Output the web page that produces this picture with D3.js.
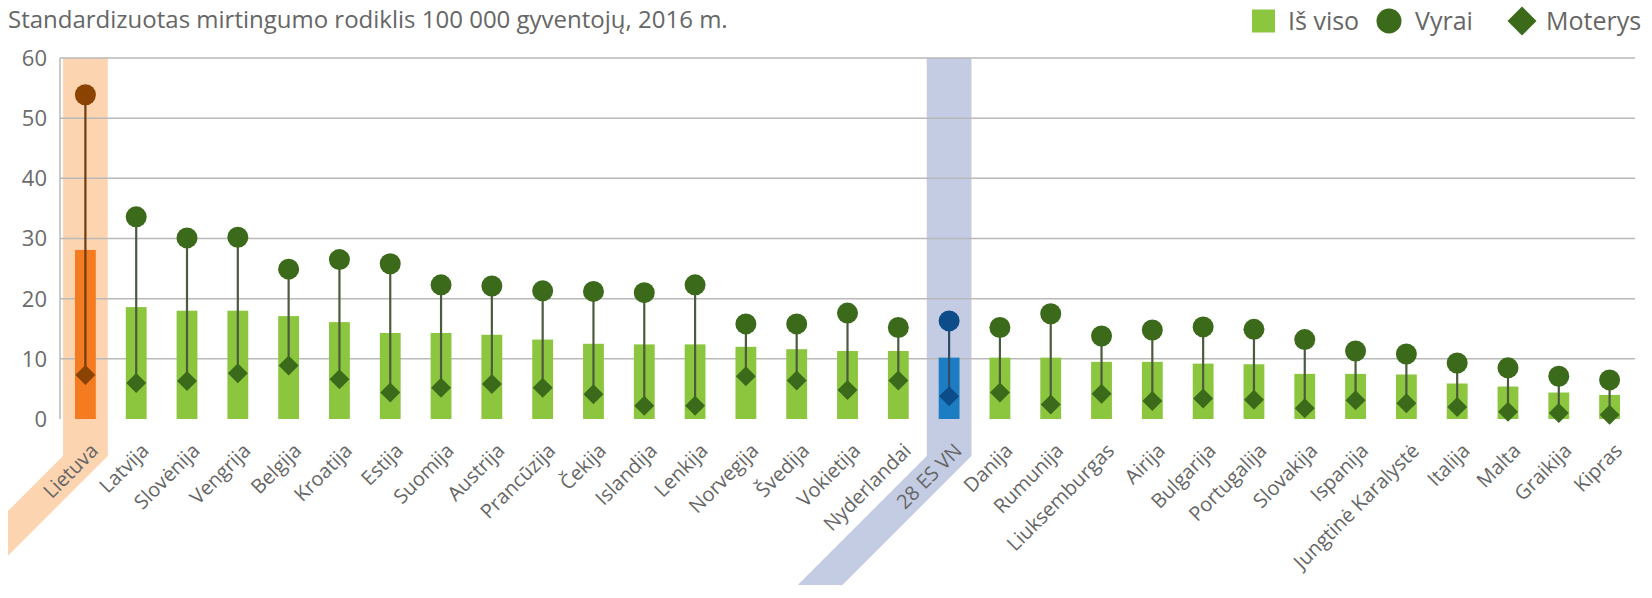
<!doctype html>
<html lang="lt">
<head>
  <meta charset="utf-8">
  <title>Standardizuotas mirtingumo rodiklis</title>
  <script src="https://cdnjs.cloudflare.com/ajax/libs/d3/7.8.5/d3.min.js"></script>
  <style>
    body { margin: 0; background: #fff; }
    text { font-family: "Open Sans", sans-serif; }
  </style>
</head>
<body>
<svg width="1652" height="598" id="svg"></svg>
<script>

var countries = ["Lietuva", "Latvija", "Slovėnija", "Vengrija", "Belgija", "Kroatija", "Estija",
  "Suomija", "Austrija", "Prancūzija", "Čekija", "Islandija", "Lenkija", "Norvegija", "Švedija",
  "Vokietija", "Nyderlandai", "28 ES VN", "Danija", "Rumunija", "Liuksemburgas", "Airija",
  "Bulgarija", "Portugalija", "Slovakija", "Ispanija", "Jungtinė Karalystė", "Italija", "Malta",
  "Graikija", "Kipras"];

// Iš viso
var total = [28.1, 18.6, 18.0, 18.0, 17.1, 16.1, 14.3, 14.3, 14.0, 13.2, 12.5, 12.4, 12.4, 12.0,
  11.6, 11.3, 11.3, 10.2, 10.2, 10.2, 9.5, 9.5, 9.2, 9.1, 7.5, 7.5, 7.4, 5.9, 5.4, 4.4, 4.0];
// Vyrai
var men = [53.9, 33.6, 30.1, 30.2, 24.9, 26.5, 25.8, 22.3, 22.1, 21.3, 21.2, 21.0, 22.3, 15.8,
  15.8, 17.6, 15.2, 16.3, 15.2, 17.5, 13.8, 14.8, 15.3, 14.9, 13.2, 11.3, 10.8, 9.3, 8.5, 7.1, 6.5];
// Moterys
var women = [7.3, 6.0, 6.3, 7.6, 8.9, 6.6, 4.4, 5.2, 5.8, 5.2, 4.1, 2.2, 2.2, 7.1, 6.4, 4.8, 6.4,
  3.8, 4.4, 2.4, 4.2, 3.0, 3.4, 3.2, 1.8, 3.1, 2.6, 2.0, 1.2, 1.0, 0.7];

var yTicks = [0, 10, 20, 30, 40, 50, 60];
var legendLabels = ["Iš viso", "Vyrai", "Moterys"];
var title = "Standardizuotas mirtingumo rodiklis 100 000 gyventojų, 2016 m.";

var svg = d3.select('#svg');

var x = d3.scaleBand()
  .domain(countries)
  .range([60, 1635])
  .padding(0);

var y = d3.scaleLinear()
  .domain([0, 60])
  .range([419, 58]);

// colour sets: normal, Lithuania, EU average
var palette = {
  normal: { bar: '#8cc63f', mark: '#3b6a1b', stem: '#4c5a40' },
  lt: { bar: '#f47b20', mark: '#8a4300', stem: '#6e3c12', band: '#fdd4b0' },
  eu: { bar: '#1c7dc3', mark: '#0c4c88', stem: '#2f4b68', band: '#c4cce3' }
};
function kind(c) {
  if (c === 'Lietuva') return 'lt';
  if (c === '28 ES VN') return 'eu';
  return 'normal';
}

var data = countries.map(function(c, i) {
  return { country: c, total: total[i], men: men[i], women: women[i], kind: kind(c) };
});

function cx(c) { return x(c) + x.bandwidth() / 2; }

svg.append('defs').append('clipPath').attr('id', 'clip')
  .append('rect').attr('x', 8).attr('y', 0).attr('width', 1644).attr('height', 598);

// highlight bands (vertical strip that bends along the label)
var bandW = x.step() * 0.88;
var bendY = 456, bottomY = 585;
svg.append('g')
  .attr('clip-path', 'url(#clip)')
  .selectAll('path')
  .data(data.filter(function(d) { return d.kind !== 'normal'; }))
  .enter()
  .append('path')
  .attr('d', function(d) {
    var xl = cx(d.country) - bandW / 2, xr = cx(d.country) + bandW / 2;
    var dx = bottomY - bendY;
    return 'M' + xl + ',' + y(60) + 'L' + xr + ',' + y(60) + 'L' + xr + ',' + bendY +
      'L' + (xr - dx) + ',' + bottomY + 'L' + (xl - dx) + ',' + bottomY + 'L' + xl + ',' + bendY + 'Z';
  })
  .attr('fill', function(d) { return palette[d.kind].band; });

// grid
svg.append('g')
  .selectAll('line')
  .data(yTicks.filter(function(t) { return t > 0; }))
  .enter()
  .append('line')
  .attr('x1', 60)
  .attr('x2', 1635)
  .attr('y1', function(d) { return y(d); })
  .attr('y2', function(d) { return y(d); })
  .attr('stroke', '#b9b9b9')
  .attr('stroke-width', 1.5);

svg.append('line')
  .attr('x1', 60).attr('x2', 60)
  .attr('y1', y(60)).attr('y2', y(0))
  .attr('stroke', '#b9b9b9')
  .attr('stroke-width', 1.5);

svg.append('g')
  .selectAll('text')
  .data(yTicks)
  .enter()
  .append('text')
  .attr('x', 47)
  .attr('y', function(d) { return y(d); })
  .attr('dy', '0.36em')
  .attr('text-anchor', 'end')
  .attr('font-size', 22)
  .attr('fill', '#6b6b6b')
  .text(function(d) { return d; });

// bars
var barW = x.step() * 0.41;
svg.append('g')
  .selectAll('rect')
  .data(data)
  .enter()
  .append('rect')
  .attr('x', function(d) { return cx(d.country) - barW / 2; })
  .attr('y', function(d) { return y(d.total); })
  .attr('width', barW)
  .attr('height', function(d) { return y(0) - y(d.total); })
  .attr('fill', function(d) { return palette[d.kind].bar; });

// stems
svg.append('g')
  .selectAll('line')
  .data(data)
  .enter()
  .append('line')
  .attr('x1', function(d) { return cx(d.country); })
  .attr('x2', function(d) { return cx(d.country); })
  .attr('y1', function(d) { return y(d.women); })
  .attr('y2', function(d) { return y(d.men); })
  .attr('stroke', function(d) { return palette[d.kind].stem; })
  .attr('stroke-width', 2.2);

var diamond = d3.symbol().type(d3.symbolSquare).size(200);

svg.append('g')
  .selectAll('path')
  .data(data)
  .enter()
  .append('path')
  .attr('d', diamond)
  .attr('transform', function(d) {
    return 'translate(' + cx(d.country) + ',' + y(d.women) + ') rotate(45)';
  })
  .attr('fill', function(d) { return palette[d.kind].mark; });

svg.append('g')
  .selectAll('circle')
  .data(data)
  .enter()
  .append('circle')
  .attr('cx', function(d) { return cx(d.country); })
  .attr('cy', function(d) { return y(d.men); })
  .attr('r', 10.5)
  .attr('fill', function(d) { return palette[d.kind].mark; });

// category labels
svg.append('g')
  .selectAll('text')
  .data(countries)
  .enter()
  .append('text')
  .attr('transform', function(d) {
    return 'translate(' + (cx(d) + 14) + ',452) rotate(-45)';
  })
  .attr('text-anchor', 'end')
  .attr('font-size', 20)
  .attr('fill', '#666')
  .text(function(d) { return d; });

// title
svg.append('text')
  .attr('x', 8)
  .attr('y', 28)
  .attr('font-size', 24)
  .attr('fill', '#666')
  .text(title);

// legend
var legend = svg.append('g').attr('transform', 'translate(0,21)');
legend.append('rect')
  .attr('x', 1252).attr('y', -11.5).attr('width', 23).attr('height', 23)
  .attr('fill', palette.normal.bar);
legend.append('circle')
  .attr('cx', 1389).attr('cy', 0).attr('r', 12.5)
  .attr('fill', palette.normal.mark);
legend.append('path')
  .attr('d', d3.symbol().type(d3.symbolSquare).size(420)())
  .attr('transform', 'translate(1522,0) rotate(45)')
  .attr('fill', palette.normal.mark);
legend.selectAll('text')
  .data(legendLabels)
  .enter()
  .append('text')
  .attr('x', function(d, i) { return [1288, 1415, 1546][i]; })
  .attr('y', 0)
  .attr('dy', '0.36em')
  .attr('font-size', 25)
  .attr('fill', '#666')
  .text(function(d) { return d; });

</script>
</body>
</html>
